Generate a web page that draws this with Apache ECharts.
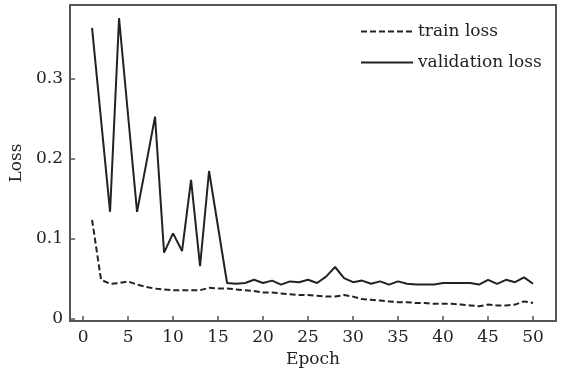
<!DOCTYPE html>
<html>
<head>
<meta charset="utf-8">
<script src="https://cdn.jsdelivr.net/npm/echarts@6/dist/echarts.min.js"></script>
<style>
  html, body { margin: 0; padding: 0; background: #fff; }
  #chart { width: 561px; height: 374px; }
</style>
</head>
<body>
<div id="chart"></div>
<script>
const epochs = [1, 2, 3, 4, 5, 6, 7, 8, 9, 10, 11, 12, 13, 14, 15, 16, 17, 18, 19, 20,
  21, 22, 23, 24, 25, 26, 27, 28, 29, 30, 31, 32, 33, 34, 35, 36, 37, 38, 39, 40,
  41, 42, 43, 44, 45, 46, 47, 48, 49, 50];

const trainLoss = [0.124, 0.049, 0.044, 0.045, 0.047, 0.043, 0.040, 0.038, 0.037, 0.036,
  0.036, 0.036, 0.036, 0.039, 0.038, 0.038, 0.037, 0.036, 0.035, 0.033,
  0.033, 0.032, 0.031, 0.030, 0.030, 0.029, 0.028, 0.028, 0.030, 0.028,
  0.025, 0.024, 0.023, 0.022, 0.021, 0.021, 0.020, 0.020, 0.019, 0.019,
  0.019, 0.018, 0.017, 0.016, 0.018, 0.017, 0.017, 0.018, 0.022, 0.020];

const valLoss = [0.364, 0.249, 0.134, 0.376, 0.255, 0.134, 0.193, 0.253, 0.083, 0.107,
  0.085, 0.174, 0.066, 0.185, 0.115, 0.045, 0.044, 0.045, 0.049, 0.045,
  0.048, 0.043, 0.047, 0.046, 0.049, 0.045, 0.053, 0.065, 0.051, 0.046,
  0.048, 0.044, 0.047, 0.043, 0.047, 0.044, 0.043, 0.043, 0.043, 0.045,
  0.045, 0.045, 0.045, 0.043, 0.049, 0.044, 0.049, 0.046, 0.052, 0.044];

const xTicks = [0, 5, 10, 15, 20, 25, 30, 35, 40, 45, 50];
const yTicks = [0, 0.1, 0.2, 0.3];

const font = 'DejaVu Serif';
const ink = '#222';
const axisInk = '#555';

const chart = echarts.init(document.getElementById('chart'));

chart.setOption({
  animation: false,
  grid: { left: 70, right: 5, top: 5, bottom: 53, show: true, borderColor: axisInk, borderWidth: 2 },
  legend: {
    orient: 'vertical',
    left: 355,
    top: 18,
    itemWidth: 52,
    itemHeight: 14,
    itemGap: 14,
    itemStyle: { opacity: 0 },
    textStyle: { fontFamily: font, fontSize: 17, color: ink, lineHeight: 17 },
    data: ['train loss', 'validation loss']
  },
  xAxis: {
    type: 'value',
    min: -1.45,
    max: 52.55,
    name: 'Epoch',
    nameLocation: 'middle',
    nameGap: 27,
    nameTextStyle: { fontFamily: font, fontSize: 17, color: ink },
    axisLine: { onZero: false, lineStyle: { color: axisInk, width: 2 } },
    axisTick: { inside: true, length: 5, customValues: xTicks, lineStyle: { color: axisInk, width: 1.5 } },
    axisLabel: { customValues: xTicks, fontFamily: font, fontSize: 17, color: ink, margin: 8 },
    splitLine: { show: false }
  },
  yAxis: {
    type: 'value',
    min: -0.0025,
    max: 0.3925,
    name: 'Loss',
    nameLocation: 'middle',
    nameGap: 36,
    nameRotate: 90,
    nameTextStyle: { fontFamily: font, fontSize: 17, color: ink },
    axisLine: { show: true, onZero: false, lineStyle: { color: axisInk, width: 2 } },
    axisTick: { show: true, inside: true, length: 5, customValues: yTicks, lineStyle: { color: axisInk, width: 1.5 } },
    axisLabel: { customValues: yTicks, fontFamily: font, fontSize: 17, color: ink, margin: 7 },
    splitLine: { show: false }
  },
  series: [
    {
      name: 'train loss',
      type: 'line',
      symbol: 'none',
      data: epochs.map((e, i) => [e, trainLoss[i]]),
      lineStyle: { color: ink, width: 2, type: [6, 3] },
      itemStyle: { color: ink }
    },
    {
      name: 'validation loss',
      type: 'line',
      symbol: 'none',
      data: epochs.map((e, i) => [e, valLoss[i]]),
      lineStyle: { color: ink, width: 2 },
      itemStyle: { color: ink }
    }
  ]
});
</script>
</body>
</html>
